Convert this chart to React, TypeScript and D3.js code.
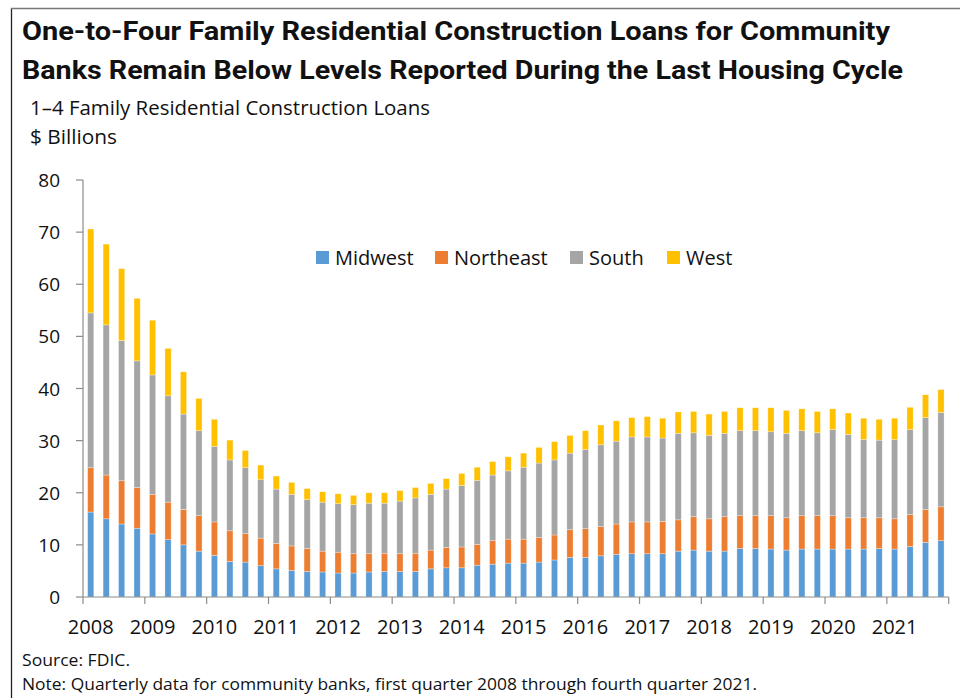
import React, { useEffect, useRef } from "react";
import * as d3 from "d3";

// quarterly values, $ billions, 2008Q1 .. 2021Q4
const years = [2008, 2009, 2010, 2011, 2012, 2013, 2014, 2015, 2016, 2017, 2018, 2019, 2020, 2021];
const quarters = years.flatMap((y) => [1, 2, 3, 4].map((q) => `${y}Q${q}`));

const midwest = [
  16.3, 15.0, 14.0, 13.2, 12.1, 11.0, 10.0, 8.8, 8.0, 6.8, 6.7, 6.0, 5.4, 5.1, 4.9, 4.8,
  4.6, 4.6, 4.8, 4.9, 4.9, 4.9, 5.4, 5.6, 5.6, 6.1, 6.3, 6.5, 6.5, 6.7, 7.1, 7.6,
  7.6, 7.9, 8.2, 8.3, 8.3, 8.3, 8.8, 9.0, 8.8, 8.8, 9.3, 9.3, 9.2, 9.0, 9.2, 9.2,
  9.2, 9.2, 9.2, 9.3, 9.2, 9.7, 10.5, 10.8,
];
const northeast = [
  8.5, 8.4, 8.3, 7.8, 7.6, 7.2, 6.8, 6.8, 6.4, 5.9, 5.5, 5.3, 4.9, 4.7, 4.4, 4.0,
  4.0, 3.7, 3.5, 3.5, 3.4, 3.5, 3.6, 3.9, 4.0, 4.0, 4.5, 4.6, 4.6, 4.7, 4.8, 5.3,
  5.5, 5.6, 5.8, 6.1, 6.1, 6.2, 6.0, 6.4, 6.2, 6.6, 6.3, 6.3, 6.4, 6.2, 6.4, 6.4,
  6.4, 6.0, 6.0, 5.9, 5.8, 6.1, 6.3, 6.5,
];
const south = [
  29.7, 28.8, 26.9, 24.3, 22.9, 20.4, 18.3, 16.3, 14.5, 13.6, 12.6, 11.2, 10.4, 9.9, 9.4, 9.4,
  9.3, 9.4, 9.7, 9.6, 10.1, 10.6, 10.7, 11.2, 11.8, 12.3, 12.6, 13.1, 13.8, 14.3, 14.4, 14.7,
  15.2, 15.7, 15.9, 16.3, 16.3, 16.0, 16.6, 16.1, 16.0, 16.0, 16.3, 16.3, 16.1, 16.2, 16.3, 15.9,
  16.5, 16.0, 15.0, 14.9, 15.2, 16.3, 17.6, 18.1,
];
const west = [
  16.1, 15.5, 13.8, 12.0, 10.5, 9.1, 8.1, 6.2, 5.2, 3.8, 3.3, 2.8, 2.5, 2.3, 2.1, 2.0,
  1.9, 1.8, 2.0, 2.0, 2.0, 2.0, 2.1, 2.0, 2.3, 2.5, 2.6, 2.7, 2.7, 3.0, 3.5, 3.4,
  3.6, 3.8, 3.9, 3.7, 3.9, 3.8, 4.1, 4.1, 4.1, 4.2, 4.4, 4.4, 4.6, 4.4, 4.2, 4.1,
  4.0, 4.1, 4.1, 4.0, 4.1, 4.3, 4.4, 4.4,
];

const seriesNames = ["Midwest", "Northeast", "South", "West"];
const seriesColors = ["#5B9BD5", "#ED7D31", "#A5A5A5", "#FFC000"];
const yTicks = [0, 10, 20, 30, 40, 50, 60, 70, 80];

const W = 960;
const H = 698;
const font = "'Open Sans', sans-serif";

const Chart = () => {
  const svgRef = useRef(null);

  useEffect(() => {
    const svg = d3.select(svgRef.current);
    svg.selectAll("*").remove();

    const rows = quarters.map((q, i) => ({
      q,
      Midwest: midwest[i],
      Northeast: northeast[i],
      South: south[i],
      West: west[i],
    }));

    const x = d3.scaleBand().domain(quarters).range([83, 948.7]).paddingInner(0.6).paddingOuter(0.3);
    const y = d3.scaleLinear().domain([0, 80]).range([597, 180]);
    const color = d3.scaleOrdinal<string>().domain(seriesNames).range(seriesColors);
    const stacked = d3.stack<any>().keys(seriesNames)(rows);

    svg.append("rect").attr("width", W).attr("height", H).attr("fill", "#fff");

    // frame
    svg.append("line").attr("x1", 11.5).attr("x2", 11.5).attr("y1", 8).attr("y2", H)
      .attr("stroke", "#222").attr("stroke-width", 1.3);
    svg.append("line").attr("x1", 11).attr("x2", W).attr("y1", 8.5).attr("y2", 8.5)
      .attr("stroke", "#777").attr("stroke-width", 1.3);

    // titles
    const title = [
      "One-to-Four Family Residential Construction Loans for Community",
      "Banks Remain Below Levels Reported During the Last Housing Cycle",
    ];
    const titleLen = [868, 881];
    title.forEach((t, i) => {
      svg.append("text").attr("x", 22).attr("y", 40 + i * 38.5)
        .attr("font-family", "Roboto, sans-serif").attr("font-weight", 700)
        .attr("font-size", 25.5).attr("fill", "#111")
        .attr("textLength", titleLen[i]).attr("lengthAdjust", "spacingAndGlyphs")
        .text(t);
    });

    svg.append("text").attr("x", 30).attr("y", 115).attr("font-family", font)
      .attr("font-size", 19.5).attr("fill", "#111")
      .attr("textLength", 400).attr("lengthAdjust", "spacingAndGlyphs")
      .text("1–4 Family Residential Construction Loans");
    svg.append("text").attr("x", 30).attr("y", 144).attr("font-family", font)
      .attr("font-size", 19.5).attr("fill", "#111")
      .attr("textLength", 87).attr("lengthAdjust", "spacingAndGlyphs")
      .text("$ Billions");

    // bars
    const g = svg.append("g");
    g.selectAll("g.layer")
      .data(stacked)
      .enter()
      .append("g")
      .attr("class", "layer")
      .attr("fill", (d) => color(d.key))
      .selectAll("rect")
      .data((d) => d)
      .enter()
      .append("rect")
      .attr("x", (d: any) => x(d.data.q) as number)
      .attr("width", x.bandwidth())
      .attr("y", (d) => y(d[1]))
      .attr("height", (d) => y(d[0]) - y(d[1]))
      .attr("stroke", "#fff")
      .attr("stroke-opacity", 0.5)
      .attr("stroke-width", 0.6);

    // y axis
    const axisColor = "#8c8c8c";
    svg.append("line").attr("x1", 83).attr("x2", 83).attr("y1", y(80)).attr("y2", y(0))
      .attr("stroke", axisColor).attr("stroke-width", 1.2);
    yTicks.forEach((t) => {
      svg.append("line").attr("x1", 76).attr("x2", 83).attr("y1", y(t)).attr("y2", y(t))
        .attr("stroke", axisColor).attr("stroke-width", 1.2);
      svg.append("text").attr("x", 60).attr("y", y(t) + 7).attr("text-anchor", "end")
        .attr("font-family", font).attr("font-size", 19).attr("fill", "#111")
        .text(t);
    });

    // x axis
    svg.append("line").attr("x1", 83).attr("x2", 948.7).attr("y1", y(0)).attr("y2", y(0))
      .attr("stroke", axisColor).attr("stroke-width", 1.2);
    const edge = (x.step() - x.bandwidth()) / 2;
    const tickXs = years.map((yr) => (x(`${yr}Q1`) as number) - edge).concat([948.7]);
    tickXs.forEach((tx) => {
      svg.append("line").attr("x1", tx).attr("x2", tx).attr("y1", y(0)).attr("y2", y(0) + 7)
        .attr("stroke", axisColor).attr("stroke-width", 1.2);
    });
    years.forEach((yr) => {
      svg.append("text").attr("x", (x(`${yr}Q1`) as number) + x.bandwidth() / 2)
        .attr("y", 634).attr("text-anchor", "middle")
        .attr("font-family", font).attr("font-size", 20).attr("fill", "#111")
        .text(yr);
    });

    // legend
    const legendX = [316, 435, 570, 667];
    seriesNames.forEach((s, i) => {
      svg.append("rect").attr("x", legendX[i]).attr("y", 251).attr("width", 13).attr("height", 13)
        .attr("fill", color(s));
      svg.append("text").attr("x", legendX[i] + 19).attr("y", 264.5)
        .attr("font-family", font).attr("font-size", 20).attr("fill", "#111")
        .text(s);
    });

    // notes
    svg.append("text").attr("x", 22).attr("y", 666).attr("font-family", font)
      .attr("font-size", 17).attr("fill", "#111")
      .attr("textLength", 108).attr("lengthAdjust", "spacingAndGlyphs")
      .text("Source: FDIC.");
    svg.append("text").attr("x", 22).attr("y", 690).attr("font-family", font)
      .attr("font-size", 17).attr("fill", "#111")
      .attr("textLength", 735).attr("lengthAdjust", "spacingAndGlyphs")
      .text("Note: Quarterly data for community banks, first quarter 2008 through fourth quarter 2021.");
  }, []);

  return (
    <svg
      ref={svgRef}
      width={W}
      height={H}
      style={{ position: "absolute", left: 0, top: 0, display: "block" }}
    />
  );
};

export default function App() {
  return <Chart />;
}
